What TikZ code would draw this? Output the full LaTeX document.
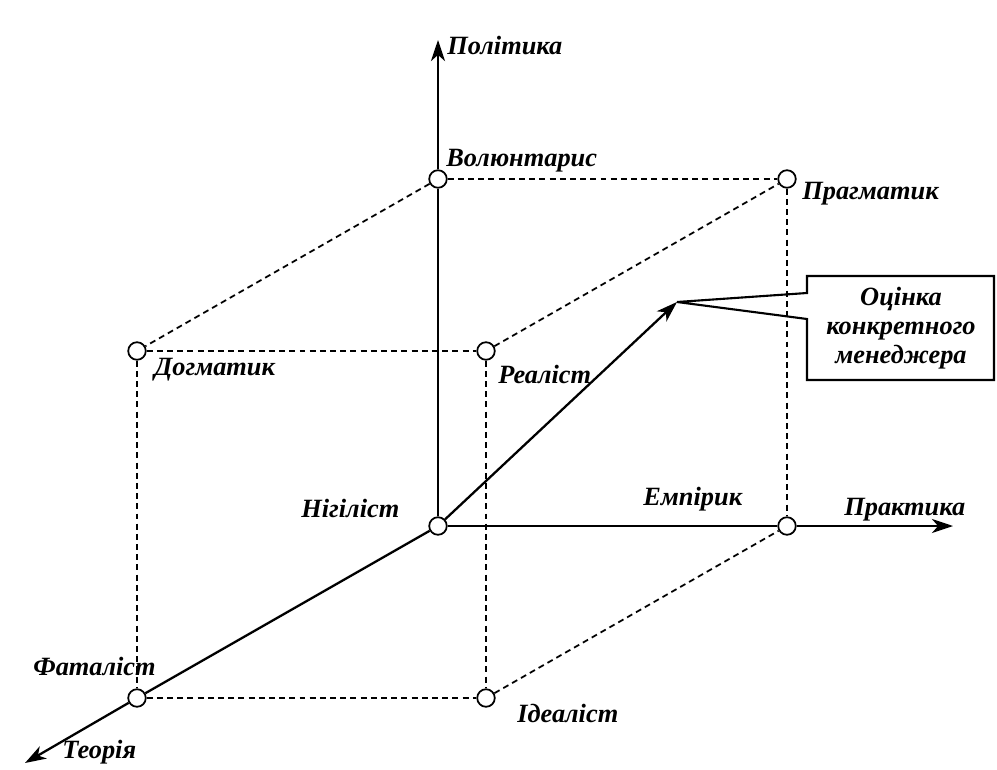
\documentclass[tikz,border=0pt]{standalone}
\usepackage{fontspec}
\setmainfont{Liberation Serif}
\usetikzlibrary{arrows.meta}
\usetikzlibrary{calc}

\begin{document}
\begin{tikzpicture}[x=0.02cm,y=-0.02cm]
  \tikzstyle{axis}=[line width=1.3pt,-{Stealth[length=12pt,width=8pt,inset=3.5pt]}]
  \tikzstyle{solid edge}=[line width=1.3pt]
  \tikzstyle{edge}=[line width=1pt,dash pattern=on 3.4pt off 2.4pt]
  \tikzstyle{vertex}=[circle,draw,line width=1pt,fill=white,inner sep=0pt,minimum size=10pt]
  \tikzstyle{lbl}=[font=\fontsize{15}{17}\selectfont\bfseries\itshape,inner sep=0pt,anchor=base west]

  \useasboundingbox (0,0) rectangle (997,770);

  \def\Ox{438}
  \def\Oy{526}
  \def\W{349}
  \def\H{347}
  \def\dx{-301}
  \def\dy{172}

  % VERTICES
  \node[vertex] (nihilist)    at (\Ox,\Oy) {};
  \node[vertex] (empiric)     at (\Ox+\W,\Oy) {};
  \node[vertex] (voluntarist) at (\Ox,\Oy-\H) {};
  \node[vertex] (pragmatic)   at (\Ox+\W,\Oy-\H) {};
  \node[vertex] (fatalist)    at (\Ox+\dx,\Oy+\dy) {};
  \node[vertex] (idealist)    at (\Ox+\dx+\W,\Oy+\dy) {};
  \node[vertex] (dogmatic)    at (\Ox+\dx,\Oy+\dy-\H) {};
  \node[vertex] (realist)     at (\Ox+\dx+\W,\Oy+\dy-\H) {};

  % AXIS ENDS
  \coordinate (politics) at (\Ox,40);
  \coordinate (practice) at (953,\Oy);
  \coordinate (theory)   at (25,763);
  \coordinate (score)    at (677,302);

  % DASHED EDGES
  \draw[edge] (voluntarist) -- (pragmatic);
  \draw[edge] (voluntarist) -- (dogmatic);
  \draw[edge] (dogmatic) -- (realist);
  \draw[edge] (realist) -- (pragmatic);
  \draw[edge] (dogmatic) -- (fatalist);
  \draw[edge] (realist) -- (idealist);
  \draw[edge] (pragmatic) -- (empiric);
  \draw[edge] (fatalist) -- (idealist);
  \draw[edge] (idealist) -- (empiric);

  % AXES
  \draw[solid edge] (nihilist) -- (voluntarist);
  \draw[axis] (voluntarist) -- (politics);
  \draw[solid edge] (nihilist) -- (empiric);
  \draw[axis] (empiric) -- (practice);
  \draw[solid edge] (nihilist) -- (fatalist);
  \draw[axis] (fatalist) -- (theory);
  \draw[axis] (nihilist) -- (score);

  % LABELS
  \node[lbl] (politicslbl)    at (447,55)  {Політика};
  \node[lbl] (voluntaristlbl) at (446,167) {Волюнтарис};
  \node[lbl] (pragmaticlbl)   at (802,200) {Прагматик};
  \node[lbl] (dogmaticlbl)    at (154,375) {Догматик};
  \node[lbl] (realistlbl)     at (498,383) {Реаліст};
  \node[lbl] (nihilistlbl)    at (301,517) {Нігіліст};
  \node[lbl] (empiriclbl)     at (643,505) {Емпірик};
  \node[lbl] (practicelbl)    at (844,515) {Практика};
  \node[lbl] (fatalistlbl)    at (33,675)  {Фаталіст};
  \node[lbl] (idealistlbl)    at (517,722) {Ідеаліст};
  \node[lbl] (theorylbl)      at (62,758)  {Теорія};

  % CALLOUT
  \node[font=\fontsize{15}{16.5}\selectfont\bfseries\itshape,align=center,inner sep=0pt]
    (callout) at (901,328) {Оцінка\\конкретного\\менеджера};
  \draw[line width=1.2pt] (807,293) -- (807,276) -- (994,276) -- (994,380)
    -- (807,380) -- (807,319) -- (score) -- cycle;
\end{tikzpicture}
\end{document}
